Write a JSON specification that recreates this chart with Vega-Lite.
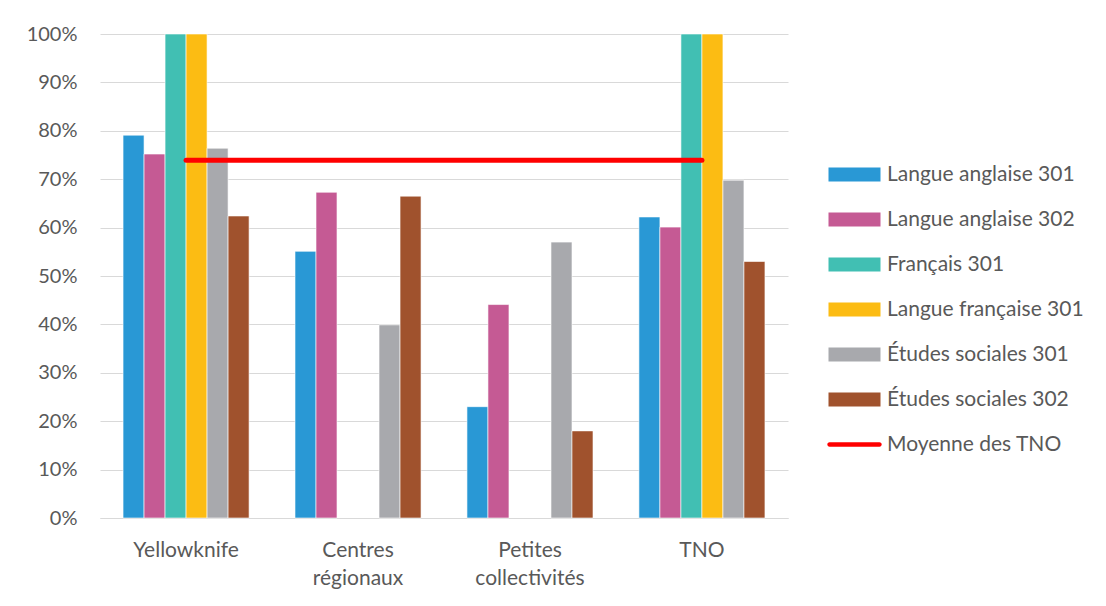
{
  "$schema": "https://vega.github.io/schema/vega-lite/v6.json",
  "autosize": {"type": "none"},
  "width": 688,
  "height": 484,
  "padding": {"left": 100, "top": 34, "right": 318, "bottom": 88},
  "background": "white",
  "config": {
    "view": {"stroke": null},
    "font": "Lato",
    "axis": {"labelFont": "Lato", "labelColor": "#595959"}
  },
  "datasets": {
    "bars": [
      {"region": "Yellowknife", "serie": "Langue anglaise 301", "taux": 0.791},
      {"region": "Yellowknife", "serie": "Langue anglaise 302", "taux": 0.752},
      {"region": "Yellowknife", "serie": "Français 301", "taux": 1.0},
      {"region": "Yellowknife", "serie": "Langue française 301", "taux": 1.0},
      {"region": "Yellowknife", "serie": "Études sociales 301", "taux": 0.764},
      {"region": "Yellowknife", "serie": "Études sociales 302", "taux": 0.624},
      {"region": "Centres régionaux", "serie": "Langue anglaise 301", "taux": 0.551},
      {"region": "Centres régionaux", "serie": "Langue anglaise 302", "taux": 0.673},
      {"region": "Centres régionaux", "serie": "Études sociales 301", "taux": 0.399},
      {"region": "Centres régionaux", "serie": "Études sociales 302", "taux": 0.665},
      {"region": "Petites collectivités", "serie": "Langue anglaise 301", "taux": 0.230},
      {"region": "Petites collectivités", "serie": "Langue anglaise 302", "taux": 0.441},
      {"region": "Petites collectivités", "serie": "Études sociales 301", "taux": 0.570},
      {"region": "Petites collectivités", "serie": "Études sociales 302", "taux": 0.180},
      {"region": "TNO", "serie": "Langue anglaise 301", "taux": 0.622},
      {"region": "TNO", "serie": "Langue anglaise 302", "taux": 0.601},
      {"region": "TNO", "serie": "Français 301", "taux": 1.0},
      {"region": "TNO", "serie": "Langue française 301", "taux": 1.0},
      {"region": "TNO", "serie": "Études sociales 301", "taux": 0.698},
      {"region": "TNO", "serie": "Études sociales 302", "taux": 0.530}
    ],
    "moyenne": [
      {"region": "Yellowknife", "serie": "Moyenne des TNO", "taux": 0.739},
      {"region": "Centres régionaux", "serie": "Moyenne des TNO", "taux": 0.739},
      {"region": "Petites collectivités", "serie": "Moyenne des TNO", "taux": 0.739},
      {"region": "TNO", "serie": "Moyenne des TNO", "taux": 0.739}
    ]
  },
  "encoding": {
    "x": {
      "field": "region",
      "type": "nominal",
      "sort": null,
      "title": null,
      "scale": {"paddingInner": 0.267, "paddingOuter": 0.134},
      "axis": {
        "labelAngle": 0,
        "labelFontSize": 21,
        "labelPadding": 21,
        "labelLineHeight": 28,
        "labelBaseline": "top",
        "domain": true,
        "domainColor": "#D9D9D9",
        "domainWidth": 1,
        "ticks": false,
        "labelExpr": "datum.value == 'Centres régionaux' ? ['Centres', 'régionaux'] : datum.value == 'Petites collectivités' ? ['Petites', 'collectivités'] : datum.value"
      }
    },
    "y": {
      "field": "taux",
      "type": "quantitative",
      "title": null,
      "scale": {"domain": [0, 1], "nice": false},
      "axis": {
        "format": ".0%",
        "values": [0, 0.1, 0.2, 0.3, 0.4, 0.5, 0.6, 0.7, 0.8, 0.9, 1.0],
        "labelFontSize": 20,
        "labelPadding": 23,
        "domain": false,
        "ticks": false,
        "grid": true,
        "gridColor": "#D9D9D9",
        "gridWidth": 1
      }
    },
    "color": {
      "field": "serie",
      "type": "nominal",
      "title": null,
      "scale": {
        "domain": ["Langue anglaise 301", "Langue anglaise 302", "Français 301", "Langue française 301", "Études sociales 301", "Études sociales 302", "Moyenne des TNO"],
        "range": ["#2998D5", "#C55A94", "#41BFB3", "#FCBC13", "#A8A9AD", "#A0522D", "#FF0000"]
      },
      "legend": {
        "orient": "none",
        "legendX": 744,
        "legendY": 130,
        "direction": "vertical",
        "padding": 0,
        "symbolSize": 400,
        "symbolStrokeWidth": 0,
        "labelFontSize": 21,
        "labelColor": "#595959",
        "labelFont": "Lato",
        "labelOffset": 22,
        "rowPadding": 23,
        "labelLimit": 400,
        "encode": {
          "symbols": {
            "update": {
              "shape": {"signal": "datum.value == 'Moyenne des TNO' ? 'M-2.5,-0.22A0.22,0.22,0,0,0,-2.5,0.22H2.5A0.22,0.22,0,0,0,2.5,-0.22Z' : 'M-2.6,-0.7H2.6V0.7H-2.6Z'"},
              "fill": {"scale": "color", "field": "value"},
              "stroke": {"value": "transparent"},
              "opacity": {"value": 1}
            }
          }
        }
      }
    }
  },
  "layer": [
    {
      "data": {"name": "bars"},
      "mark": {"type": "bar", "stroke": "white", "strokeWidth": 0.6},
      "encoding": {
        "xOffset": {
          "field": "serie",
          "type": "nominal",
          "scale": {
            "domain": ["Langue anglaise 301", "Langue anglaise 302", "Français 301", "Langue française 301", "Études sociales 301", "Études sociales 302"],
            "paddingInner": 0,
            "paddingOuter": 0
          }
        }
      }
    },
    {
      "data": {"name": "moyenne"},
      "mark": {"type": "line", "strokeWidth": 5, "strokeCap": "round"},
      "encoding": {}
    }
  ]
}
